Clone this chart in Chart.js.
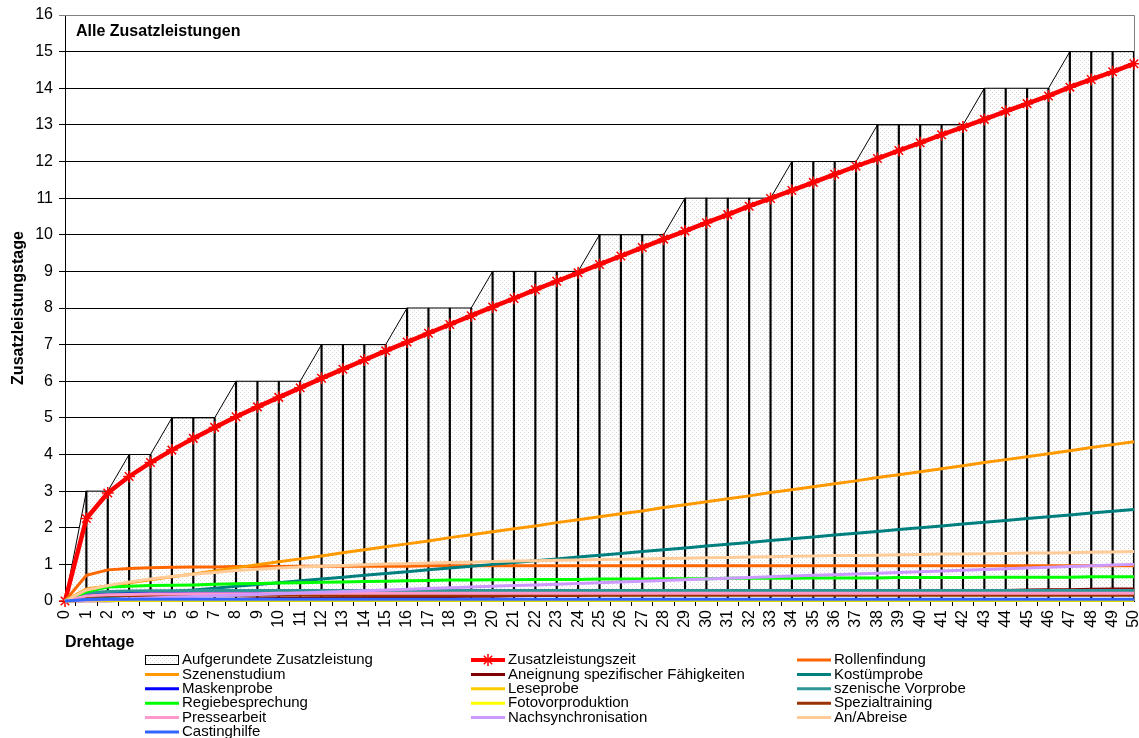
<!DOCTYPE html>
<html>
<head>
<meta charset="utf-8">
<script src="https://cdn.jsdelivr.net/npm/chart.js@4.4.1/dist/chart.umd.min.js"></script>
<style>
  html, body { margin: 0; padding: 0; background: #fff; }
  #wrap { width: 1139px; height: 738px; }
</style>
</head>
<body>
<div id="wrap"><canvas id="chart" width="1139" height="738"></canvas></div>
<script>
const drehtage = ['0','1','2','3','4','5','6','7','8','9','10','11','12','13','14','15','16','17','18','19','20',
  '21','22','23','24','25','26','27','28','29','30','31','32','33','34','35','36','37','38','39','40',
  '41','42','43','44','45','46','47','48','49','50'];

const aufgerundet = [0, 3, 3, 4, 4, 5, 5, 5, 6, 6,
  6, 6, 7, 7, 7, 7, 8, 8, 8, 8,
  9, 9, 9, 9, 9, 10, 10, 10, 10, 11,
  11, 11, 11, 11, 12, 12, 12, 12, 13, 13,
  13, 13, 13, 14, 14, 14, 14, 15, 15, 15,
  15];
const zusatzzeit = [0, 2.25, 2.95, 3.40, 3.78, 4.12, 4.44, 4.74, 5.03, 5.30,
  5.56, 5.82, 6.08, 6.33, 6.58, 6.83, 7.07, 7.31, 7.55, 7.79,
  8.03, 8.26, 8.50, 8.73, 8.96, 9.19, 9.42, 9.65, 9.88, 10.10,
  10.33, 10.55, 10.78, 10.99, 11.21, 11.43, 11.65, 11.87, 12.08, 12.30,
  12.51, 12.73, 12.94, 13.15, 13.37, 13.58, 13.79, 14.03, 14.24, 14.45,
  14.67];
const rollenfindung = [0, 0.70, 0.85, 0.89, 0.91, 0.92, 0.93, 0.93, 0.94, 0.94,
  0.94, 0.95, 0.95, 0.95, 0.95, 0.95, 0.95, 0.96, 0.96, 0.96,
  0.96, 0.96, 0.96, 0.96, 0.96, 0.96, 0.96, 0.96, 0.96, 0.96,
  0.96, 0.96, 0.96, 0.96, 0.96, 0.96, 0.96, 0.96, 0.96, 0.96,
  0.96, 0.96, 0.96, 0.96, 0.96, 0.96, 0.96, 0.96, 0.96, 0.96,
  0.96];
const szenenstudium = [0, 0.33, 0.41, 0.50, 0.58, 0.66, 0.74, 0.82, 0.91, 0.99,
  1.07, 1.15, 1.23, 1.32, 1.40, 1.48, 1.56, 1.64, 1.73, 1.81,
  1.89, 1.97, 2.05, 2.14, 2.22, 2.30, 2.38, 2.46, 2.55, 2.63,
  2.71, 2.79, 2.87, 2.96, 3.04, 3.12, 3.20, 3.28, 3.37, 3.45,
  3.53, 3.61, 3.69, 3.78, 3.86, 3.94, 4.02, 4.10, 4.19, 4.27,
  4.35];
const aneignung = [0, 0.01, 0.01, 0.02, 0.03, 0.03, 0.04, 0.05, 0.05, 0.06,
  0.07, 0.07, 0.08, 0.09, 0.09, 0.10, 0.11, 0.11, 0.12, 0.13,
  0.13, 0.14, 0.15, 0.15, 0.16, 0.17, 0.17, 0.18, 0.19, 0.19,
  0.20, 0.21, 0.21, 0.22, 0.23, 0.23, 0.24, 0.25, 0.25, 0.26,
  0.27, 0.27, 0.28, 0.29, 0.29, 0.30, 0.31, 0.31, 0.32, 0.33,
  0.33];
const kostuemprobe = [0, 0.05, 0.10, 0.15, 0.20, 0.25, 0.30, 0.35, 0.40, 0.45,
  0.50, 0.55, 0.60, 0.65, 0.70, 0.75, 0.80, 0.85, 0.90, 0.95,
  1.00, 1.05, 1.10, 1.15, 1.20, 1.25, 1.30, 1.35, 1.40, 1.45,
  1.50, 1.55, 1.60, 1.65, 1.70, 1.75, 1.80, 1.85, 1.90, 1.95,
  2.00, 2.05, 2.10, 2.15, 2.20, 2.25, 2.30, 2.35, 2.40, 2.45,
  2.50];
const maskenprobe = [0, 0.17, 0.21, 0.22, 0.22, 0.22, 0.22, 0.22, 0.22, 0.22,
  0.22, 0.22, 0.22, 0.22, 0.22, 0.22, 0.22, 0.22, 0.22, 0.22,
  0.22, 0.22, 0.22, 0.22, 0.22, 0.22, 0.22, 0.22, 0.22, 0.22,
  0.22, 0.22, 0.22, 0.22, 0.22, 0.22, 0.22, 0.22, 0.22, 0.22,
  0.22, 0.22, 0.22, 0.22, 0.22, 0.22, 0.22, 0.22, 0.22, 0.22,
  0.22];
const leseprobe = [0, 0.03, 0.03, 0.03, 0.03, 0.03, 0.03, 0.03, 0.03, 0.03,
  0.03, 0.03, 0.03, 0.03, 0.03, 0.03, 0.03, 0.03, 0.03, 0.03,
  0.03, 0.03, 0.03, 0.03, 0.03, 0.03, 0.03, 0.03, 0.03, 0.03,
  0.03, 0.03, 0.03, 0.03, 0.03, 0.03, 0.03, 0.03, 0.03, 0.03,
  0.03, 0.03, 0.03, 0.03, 0.03, 0.03, 0.03, 0.03, 0.03, 0.03,
  0.03];
const szenVorprobe = [0, 0.22, 0.26, 0.27, 0.28, 0.28, 0.29, 0.29, 0.29, 0.29,
  0.29, 0.29, 0.29, 0.29, 0.29, 0.29, 0.29, 0.29, 0.29, 0.29,
  0.29, 0.29, 0.29, 0.29, 0.29, 0.29, 0.29, 0.29, 0.29, 0.29,
  0.29, 0.29, 0.29, 0.29, 0.29, 0.29, 0.29, 0.29, 0.29, 0.29,
  0.29, 0.29, 0.29, 0.29, 0.29, 0.29, 0.29, 0.29, 0.29, 0.29,
  0.29];
const regiebesprechung = [0, 0.25, 0.38, 0.40, 0.42, 0.43, 0.44, 0.46, 0.47, 0.48,
  0.49, 0.50, 0.51, 0.52, 0.53, 0.54, 0.55, 0.56, 0.57, 0.57,
  0.58, 0.58, 0.59, 0.59, 0.59, 0.60, 0.60, 0.60, 0.61, 0.61,
  0.61, 0.62, 0.62, 0.62, 0.62, 0.63, 0.63, 0.63, 0.63, 0.64,
  0.64, 0.64, 0.64, 0.65, 0.65, 0.65, 0.65, 0.65, 0.66, 0.66,
  0.66];
const fotovorproduktion = [0, 0.02, 0.02, 0.02, 0.02, 0.02, 0.02, 0.02, 0.02, 0.02,
  0.02, 0.02, 0.02, 0.02, 0.02, 0.02, 0.02, 0.02, 0.02, 0.02,
  0.02, 0.02, 0.02, 0.02, 0.02, 0.02, 0.02, 0.02, 0.02, 0.02,
  0.02, 0.02, 0.02, 0.02, 0.02, 0.02, 0.02, 0.02, 0.02, 0.02,
  0.02, 0.02, 0.02, 0.02, 0.02, 0.02, 0.02, 0.02, 0.02, 0.02,
  0.02];
const spezialtraining = [0, 0.12, 0.14, 0.15, 0.15, 0.16, 0.16, 0.16, 0.16, 0.16,
  0.16, 0.16, 0.16, 0.16, 0.16, 0.16, 0.16, 0.16, 0.16, 0.16,
  0.16, 0.16, 0.16, 0.16, 0.16, 0.16, 0.16, 0.16, 0.16, 0.16,
  0.16, 0.16, 0.16, 0.16, 0.16, 0.16, 0.16, 0.16, 0.16, 0.16,
  0.16, 0.16, 0.16, 0.16, 0.16, 0.16, 0.16, 0.16, 0.16, 0.16,
  0.16];
const pressearbeit = [0, 0.14, 0.17, 0.18, 0.19, 0.19, 0.20, 0.20, 0.20, 0.20,
  0.21, 0.21, 0.21, 0.21, 0.21, 0.21, 0.21, 0.21, 0.21, 0.21,
  0.21, 0.21, 0.21, 0.21, 0.21, 0.21, 0.21, 0.21, 0.21, 0.21,
  0.21, 0.21, 0.21, 0.21, 0.21, 0.21, 0.21, 0.21, 0.21, 0.21,
  0.21, 0.21, 0.21, 0.21, 0.21, 0.21, 0.21, 0.21, 0.21, 0.21,
  0.21];
const nachsynchronisation = [0, 0.02, 0.04, 0.06, 0.08, 0.10, 0.12, 0.14, 0.16, 0.18,
  0.20, 0.22, 0.24, 0.26, 0.28, 0.30, 0.32, 0.34, 0.36, 0.38,
  0.40, 0.42, 0.44, 0.46, 0.48, 0.50, 0.52, 0.54, 0.56, 0.58,
  0.60, 0.62, 0.64, 0.66, 0.68, 0.70, 0.72, 0.74, 0.76, 0.78,
  0.80, 0.82, 0.84, 0.86, 0.88, 0.90, 0.92, 0.94, 0.96, 0.98,
  1.00];
const anAbreise = [0, 0.30, 0.42, 0.52, 0.60, 0.67, 0.73, 0.78, 0.83, 0.87,
  0.90, 0.93, 0.95, 0.97, 0.99, 1.01, 1.02, 1.04, 1.05, 1.06,
  1.08, 1.09, 1.10, 1.11, 1.12, 1.13, 1.14, 1.15, 1.16, 1.17,
  1.18, 1.19, 1.20, 1.21, 1.22, 1.23, 1.24, 1.24, 1.25, 1.26,
  1.27, 1.28, 1.28, 1.29, 1.30, 1.31, 1.31, 1.32, 1.33, 1.34,
  1.35];
const castinghilfe = [0, 0.04, 0.05, 0.05, 0.05, 0.05, 0.05, 0.05, 0.05, 0.05,
  0.05, 0.05, 0.05, 0.05, 0.05, 0.05, 0.05, 0.05, 0.05, 0.05,
  0.05, 0.05, 0.05, 0.05, 0.05, 0.05, 0.05, 0.05, 0.05, 0.05,
  0.05, 0.05, 0.05, 0.05, 0.05, 0.05, 0.05, 0.05, 0.05, 0.05,
  0.05, 0.05, 0.05, 0.05, 0.05, 0.05, 0.05, 0.05, 0.05, 0.05,
  0.05];

const yTicks = [0, 1, 2, 3, 4, 5, 6, 7, 8, 9, 10, 11, 12, 13, 14, 15, 16];

const FONT = 'Arial, "Liberation Sans", sans-serif';

// dotted fill like the excel area pattern
const patCanvas = document.createElement('canvas');
patCanvas.width = 4;
patCanvas.height = 4;
const pctx = patCanvas.getContext('2d');
pctx.fillStyle = '#ffffff';
pctx.fillRect(0, 0, 4, 4);
pctx.fillStyle = '#d6d6d6';
pctx.fillRect(0, 0, 1, 1);
pctx.fillRect(2, 2, 1, 1);
const dots = pctx.createPattern(patCanvas, 'repeat');

// simple line series: [label, data, colour]
const thinSeries = [
  ['Rollenfindung', rollenfindung, '#FF6600'],
  ['Szenenstudium', szenenstudium, '#FF9900'],
  ['Aneignung spezifischer Fähigkeiten', aneignung, '#800000'],
  ['Kostümprobe', kostuemprobe, '#007F7F'],
  ['Maskenprobe', maskenprobe, '#0000FF'],
  ['Leseprobe', leseprobe, '#FFCC00'],
  ['szenische Vorprobe', szenVorprobe, '#2E9696'],
  ['Regiebesprechung', regiebesprechung, '#00FF00'],
  ['Fotovorproduktion', fotovorproduktion, '#FFFF00'],
  ['Spezialtraining', spezialtraining, '#993300'],
  ['Pressearbeit', pressearbeit, '#FF99CC'],
  ['Nachsynchronisation', nachsynchronisation, '#CC99FF'],
  ['An/Abreise', anAbreise, '#FFCC99'],
  ['Castinghilfe', castinghilfe, '#3366FF']
];

const datasets = [
  {
    type: 'line',
    label: 'Aufgerundete Zusatzleistung',
    data: aufgerundet,
    fill: 'origin',
    backgroundColor: dots,
    borderColor: '#000',
    borderWidth: 1,
    pointRadius: 0,
    tension: 0,
    order: 100,
    legendKind: 'box'
  },
  {
    type: 'bar',
    label: 'drop',
    data: aufgerundet,
    backgroundColor: '#000',
    barThickness: 1.5,
    order: 99.5,
    legendKind: 'none'
  },
  {
    type: 'line',
    label: 'Zusatzleistungszeit',
    data: zusatzzeit,
    borderColor: '#FF0000',
    borderWidth: 4.5,
    pointStyle: 'star',
    pointRadius: 6,
    pointBorderWidth: 1.5,
    pointBorderColor: '#FF0000',
    pointBackgroundColor: '#FF0000',
    tension: 0,
    clip: false,
    order: 99,
    legendKind: 'star'
  }
];
thinSeries.forEach((s, i) => {
  datasets.push({
    type: 'line',
    label: s[0],
    data: s[1],
    borderColor: s[2],
    backgroundColor: s[2],
    borderWidth: 3,
    pointRadius: 0,
    tension: 0,
    clip: false,
    order: 90 - i,
    legendKind: 'line'
  });
});

const extras = {
  id: 'extras',
  beforeDatasetsDraw(chart) {
    const { ctx, chartArea: a } = chart;
    ctx.save();
    ctx.strokeStyle = '#808080';
    ctx.lineWidth = 1;
    ctx.beginPath();
    ctx.moveTo(a.left, a.top + 0.5);
    ctx.lineTo(a.right + 0.5, a.top + 0.5);
    ctx.lineTo(a.right + 0.5, a.bottom);
    ctx.stroke();
    ctx.restore();
  },
  afterDraw(chart) {
    const { ctx, chartArea: a } = chart;
    ctx.save();
    ctx.fillStyle = '#000';
    ctx.textBaseline = 'middle';
    ctx.font = 'bold 16px ' + FONT;
    ctx.fillText('Alle Zusatzleistungen', a.left + 11, a.top + 17);

    // legend, 3 columns row by row
    const cols = [145, 471, 797];
    const items = chart.data.datasets.filter(d => d.legendKind !== 'none');
    ctx.font = '15px ' + FONT;
    items.forEach((d, i) => {
      const x = cols[i % 3];
      const y = 660 + Math.floor(i / 3) * 14.4;
      if (d.legendKind === 'box') {
        ctx.fillStyle = dots;
        ctx.fillRect(x, y - 5, 34, 10);
        ctx.strokeStyle = '#000';
        ctx.lineWidth = 1;
        ctx.strokeRect(x + 0.5, y - 4.5, 33, 9);
      } else {
        ctx.strokeStyle = d.borderColor;
        ctx.lineWidth = d.legendKind === 'star' ? 4 : 3;
        ctx.beginPath();
        ctx.moveTo(x, y);
        ctx.lineTo(x + 34, y);
        ctx.stroke();
        if (d.legendKind === 'star') {
          const cx = x + 17, r = 6;
          ctx.lineWidth = 1.5;
          ctx.beginPath();
          ctx.moveTo(cx - r, y); ctx.lineTo(cx + r, y);
          ctx.moveTo(cx, y - r); ctx.lineTo(cx, y + r);
          ctx.moveTo(cx - r * 0.7, y - r * 0.7); ctx.lineTo(cx + r * 0.7, y + r * 0.7);
          ctx.moveTo(cx - r * 0.7, y + r * 0.7); ctx.lineTo(cx + r * 0.7, y - r * 0.7);
          ctx.stroke();
        }
      }
      ctx.fillStyle = '#000';
      ctx.fillText(d.label, x + 37, y);
    });
    ctx.restore();
  }
};

new Chart(document.getElementById('chart'), {
  data: { labels: drehtage, datasets: datasets },
  options: {
    responsive: false,
    animation: false,
    devicePixelRatio: 1,
    layout: { autoPadding: false, padding: { top: 15, right: 5, bottom: 82, left: 0 } },
    plugins: {
      legend: { display: false },
      tooltip: { enabled: false }
    },
    scales: {
      x: {
        type: 'category',
        offset: false,
        grid: { drawOnChartArea: false, drawTicks: true, tickLength: 5, color: '#000' },
        border: { display: true, color: '#000', width: 1 },
        ticks: {
          color: '#000',
          font: { family: FONT, size: 16 },
          minRotation: 90,
          maxRotation: 90,
          autoSkip: false,
          padding: 4
        },
        title: {
          display: true,
          text: 'Drehtage',
          align: 'start',
          color: '#000',
          font: { family: FONT, size: 16, weight: 'bold' },
          padding: { top: 0, bottom: 4 }
        },
        afterFit(scale) {
          scale.height = 55;
          scale.paddingLeft = 0;
          scale.paddingRight = 0;
        }
      },
      y: {
        min: 0,
        max: 16,
        afterBuildTicks(scale) {
          scale.ticks = yTicks.map(v => ({ value: v }));
        },
        grid: {
          color: ctx => (ctx.tick && ctx.tick.value === 16 ? '#808080' : '#000'),
          tickLength: 6,
          lineWidth: 1
        },
        border: { display: true, color: '#000', width: 1 },
        ticks: {
          color: '#000',
          font: { family: FONT, size: 16 },
          padding: 6
        },
        title: {
          display: true,
          text: 'Zusatzleistungstage',
          color: '#000',
          font: { family: FONT, size: 16, weight: 'bold' },
          padding: { top: 9, bottom: 0 }
        },
        afterFit(scale) {
          scale.width = 65;
          scale.paddingTop = 0;
          scale.paddingBottom = 0;
        }
      }
    }
  },
  plugins: [extras]
});
</script>
</body>
</html>
